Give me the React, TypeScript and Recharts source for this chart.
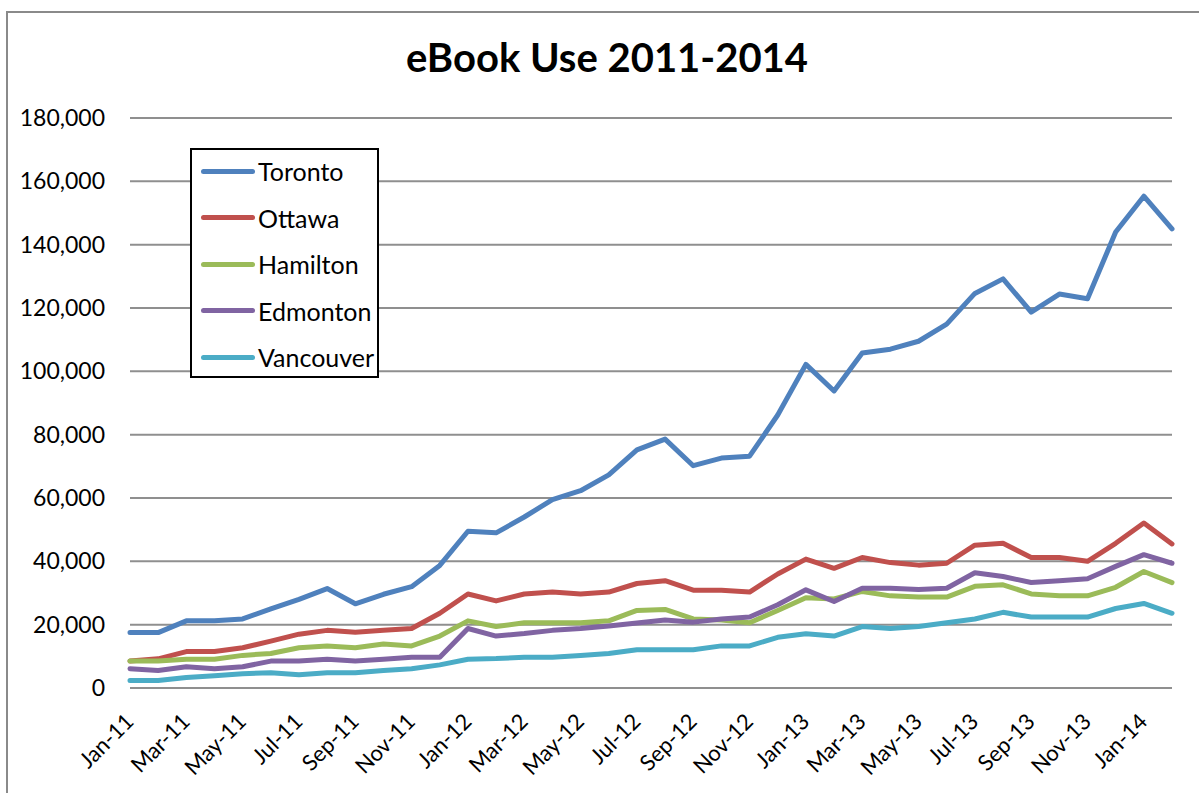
import React from "react";
import { LineChart, Line, XAxis, YAxis, CartesianGrid } from "recharts";

// ─── Data ──────────────────────────────────────────────────────────────────

const months = [
  "Jan-11", "Feb-11", "Mar-11", "Apr-11", "May-11", "Jun-11", "Jul-11", "Aug-11", "Sep-11", "Oct-11", "Nov-11", "Dec-11",
  "Jan-12", "Feb-12", "Mar-12", "Apr-12", "May-12", "Jun-12", "Jul-12", "Aug-12", "Sep-12", "Oct-12", "Nov-12", "Dec-12",
  "Jan-13", "Feb-13", "Mar-13", "Apr-13", "May-13", "Jun-13", "Jul-13", "Aug-13", "Sep-13", "Oct-13", "Nov-13", "Dec-13",
  "Jan-14", "Feb-14",
];

const toronto = [
  17500, 17500, 21200, 21200, 21800, 25000, 28000, 31400, 26600, 29600, 32000, 38700,
  49500, 49000, 54000, 59500, 62300, 67300, 75200, 78600, 70200, 72600, 73200, 86200,
  102200, 93800, 105800, 107000, 109500, 114900, 124600, 129200, 118700, 124400, 122900, 144000,
  155300, 145000,
];

const ottawa = [
  8500, 9200, 11500, 11500, 12700, 14800, 17000, 18200, 17600, 18200, 18800, 23600,
  29700, 27500, 29700, 30300, 29700, 30300, 33000, 33900, 30900, 30900, 30300, 36000,
  40700, 37800, 41200, 39600, 38800, 39400, 45100, 45700, 41200, 41200, 40000, 45700,
  52100, 45500,
];

const hamilton = [
  8500, 8500, 9100, 9100, 10300, 10900, 12700, 13300, 12700, 13900, 13300, 16400,
  21200, 19400, 20600, 20600, 20600, 21200, 24500, 24800, 21800, 21500, 20600, 24500,
  28500, 28100, 30500, 29100, 28700, 28700, 32100, 32600, 29700, 29100, 29100, 31800,
  36800, 33300,
];

const edmonton = [
  6100, 5500, 6700, 6100, 6700, 8500, 8500, 9100, 8500, 9100, 9700, 9700,
  18800, 16400, 17200, 18200, 18800, 19600, 20500, 21500, 20800, 21800, 22400, 26300,
  31000, 27300, 31500, 31500, 31100, 31500, 36400, 35200, 33300, 33900, 34500, 38400,
  42100, 39400,
];

const vancouver = [
  2400, 2400, 3300, 3900, 4500, 4800, 4200, 4800, 4800, 5500, 6100, 7300,
  9100, 9300, 9700, 9700, 10300, 10900, 12100, 12100, 12100, 13300, 13300, 16000,
  17100, 16400, 19400, 18800, 19400, 20600, 21800, 23900, 22400, 22400, 22400, 25100,
  26700, 23600,
];

const yTicks = [0, 20000, 40000, 60000, 80000, 100000, 120000, 140000, 160000, 180000];

const series = [
  { key: "Toronto", color: "#4F81BD" },
  { key: "Ottawa", color: "#C0504D" },
  { key: "Hamilton", color: "#9BBB59" },
  { key: "Edmonton", color: "#8064A2" },
  { key: "Vancouver", color: "#4BACC6" },
];

const data = months.map((month, i) => ({
  month,
  Toronto: toronto[i],
  Ottawa: ottawa[i],
  Hamilton: hamilton[i],
  Edmonton: edmonton[i],
  Vancouver: vancouver[i],
}));

const FONT = "Lato, 'Open Sans', sans-serif";

// ─── Custom pieces ─────────────────────────────────────────────────────────

function MonthTick({ x, y, payload }: any) {
  const tx = x + 5;
  const ty = y + 35;
  return (
    <text
      x={tx}
      y={ty}
      textAnchor="end"
      fontSize={22}
      fontFamily={FONT}
      fill="#000"
      transform={`rotate(-45, ${tx}, ${ty})`}
    >
      {payload.value}
    </text>
  );
}

// legend sits inside the plot, over the gridlines, like the Excel original
function LegendBox() {
  return (
    <div
      style={{
        position: "absolute",
        left: 190,
        top: 148,
        width: 185,
        height: 226,
        border: "2px solid #000",
        background: "#fff",
        fontFamily: FONT,
        fontSize: 25,
        color: "#000",
      }}
    >
      {series.map((s, i) => (
        <div
          key={s.key}
          style={{
            position: "absolute",
            left: 9,
            top: 6 + i * 46.5,
            height: 30,
            display: "flex",
            alignItems: "center",
            whiteSpace: "nowrap",
          }}
        >
          <span
            style={{
              display: "inline-block",
              width: 54,
              height: 5,
              borderRadius: 3,
              background: s.color,
              marginRight: 3,
            }}
          />
          <span>{s.key}</span>
        </div>
      ))}
    </div>
  );
}

// ─── Chart ─────────────────────────────────────────────────────────────────

export default function App() {
  return (
    <div
      style={{
        position: "absolute",
        left: 0,
        top: 0,
        width: 1199,
        height: 793,
        overflow: "hidden",
        background: "#fff",
      }}
    >
      <div
        style={{
          position: "absolute",
          left: 6,
          top: 11,
          width: 1300,
          height: 900,
          borderLeft: "2px solid #8a8a8a",
          borderTop: "2px solid #8a8a8a",
        }}
      />
      <div
        style={{
          position: "absolute",
          left: 0,
          top: 33,
          width: 1214,
          textAlign: "center",
          fontFamily: FONT,
          fontWeight: 700,
          fontSize: 40,
          color: "#000",
        }}
      >
        eBook Use 2011-2014
      </div>
      <div style={{ position: "absolute", left: 0, top: 0 }}>
        <LineChart
          width={1199}
          height={793}
          data={data}
          margin={{ top: 118, right: 27, bottom: 5, left: 0 }}
        >
          <CartesianGrid vertical={false} stroke="#8f8f8f" strokeWidth={2} />
          <XAxis
            dataKey="month"
            interval={1}
            axisLine={false}
            tickLine={false}
            tickSize={0}
            tickMargin={0}
            tick={<MonthTick />}
            height={100}
          />
          <YAxis
            width={130}
            domain={[0, 180000]}
            ticks={yTicks}
            axisLine={false}
            tickLine={false}
            tickSize={0}
            tickMargin={25}
            tickFormatter={(v: number) => v.toLocaleString("en-US")}
            tick={{ fontSize: 23, fill: "#000", fontFamily: FONT }}
          />
          {series.map((s) => (
            <Line
              key={s.key}
              type="linear"
              dataKey={s.key}
              stroke={s.color}
              strokeWidth={5}
              strokeLinejoin="round"
              strokeLinecap="round"
              dot={false}
              activeDot={false}
              isAnimationActive={false}
            />
          ))}
        </LineChart>
      </div>
      <LegendBox />
    </div>
  );
}
